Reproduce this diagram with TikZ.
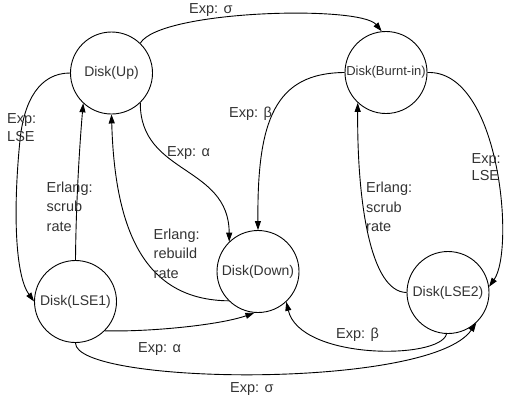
\documentclass[tikz,border=0pt]{standalone}
\usepackage{fontspec}
\setmainfont{Liberation Sans}
\usepackage{tikz}
\usetikzlibrary{shapes,arrows.meta}
\usetikzlibrary{positioning}

\tikzset{
  diskstate/.style={draw, circle, line width=0.9pt, minimum size=82pt, inner sep=0pt,
    text=black!80, font=\fontsize{14}{16}\selectfont},
  trans/.style={line width=0.9pt, -{Triangle[length=9pt,width=6pt]}},
  rate/.style={anchor=north west, inner sep=0pt, align=left, text=black!80,
    font=\fontsize{14.5}{19.5}\selectfont},
}

\begin{document}
\begin{tikzpicture}[x=1pt, y=-1pt]
      \useasboundingbox (0,0) rectangle (508,400);

      % disk states
      \node[diskstate] (up) at (111.5,73) {Disk(Up)};
      \node[diskstate, font=\fontsize{13}{15}\selectfont] (burnt) at (386,72.5) {Disk(Burnt-in)};
      \node[diskstate] (lse1) at (75.5,301.5) {Disk(LSE1)};
      \node[diskstate] (down) at (258,271.5) {Disk(Down)};
      \node[diskstate] (lse2) at (448,292.5) {Disk(LSE2)};

      \coordinate (lsebend) at (20,140);

      % transitions
      \draw[trans] (up.46) .. controls (160,10) and (360,5) .. (burnt.96);
      \draw[trans] (up.180) .. controls (40,73) and (24,100) .. (lsebend)
        .. controls (13,210) and (15,275) .. (lse1.180);
      \draw[trans] (lse1.90) .. controls (76,200) and (80,140) .. (up.227);
      \draw[trans] (down.225) .. controls (150,300) and (115,240) .. (up.270);
      \draw[trans] (up.314) .. controls (140,175) and (229,165) .. (down.134);
      \draw[trans] (burnt.180) .. controls (275,73) and (257,120) .. (down.90);
      \draw[trans] (burnt.0) .. controls (500,70) and (515,250) .. (lse2.8);
      \draw[trans] (lse2.180) .. controls (370,292) and (357,200) .. (burnt.227);
      \draw[trans] (lse1.315) .. controls (150,332) and (220,325) .. (down.265);
      \draw[trans] (lse2.268) .. controls (440,360) and (300,360) .. (down.313);
      \draw[trans] (lse1.270) .. controls (75,385) and (430,390) .. (lse2.313);

      % rates
      \node[rate] (sigmatop) at (189,3.5) {Exp: σ};
      \node[rate, font=\fontsize{14.5}{17.7}\selectfont] (lseleft) at (7,113.5) {Exp:\\LSE};
      \node[rate] (scrubleft) at (46.5,181.7) {Erlang:\\scrub\\rate};
      \node[rate] (alphamid) at (167,146) {Exp: α};
      \node[rate] (betamid) at (229,107) {Exp: β};
      \node[rate] (rebuild) at (153.5,228.3) {Erlang:\\rebuild\\rate};
      \node[rate, font=\fontsize{14.5}{17.5}\selectfont] (lseright) at (471.5,153.3) {Exp:\\LSE};
      \node[rate] (scrubright) at (366,182) {Erlang:\\scrub\\rate};
      \node[rate] (alphabot) at (138,342) {Exp: α};
      \node[rate] (betabot) at (336,328) {Exp: β};
      \node[rate] (sigmabot) at (230,382) {Exp: σ};
\end{tikzpicture}
\end{document}
